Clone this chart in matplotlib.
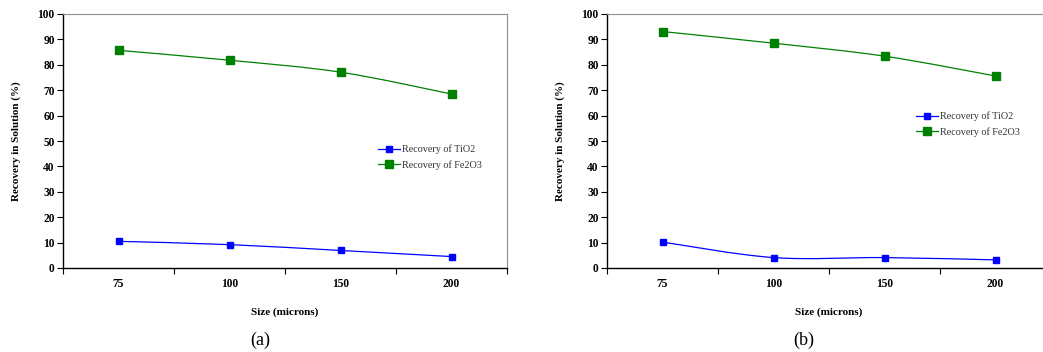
import matplotlib.pyplot as plt
import numpy as np
from matplotlib.path import Path
from matplotlib.patches import PathPatch
from matplotlib.lines import Line2D

plt.rcParams['font.family'] = 'Liberation Serif'

# data
sizes = ['75', '100', '150', '200']
tio2_a = [10.5, 9.2, 6.9, 4.5]
fe2o3_a = [85.7, 81.8, 77.1, 68.5]
tio2_b = [10.2, 4.1, 4.1, 3.2]
fe2o3_b = [93.1, 88.5, 83.4, 75.6]
panel_names = ['(a)', '(b)']


def smooth_path(xs, ys):
    # Excel style smoothed line: bezier segments through the points
    pts = np.column_stack([xs, ys]).astype(float)
    n = len(pts)
    verts = [pts[0]]
    codes = [Path.MOVETO]
    for i in range(n - 1):
        p0 = pts[i - 1] if i > 0 else pts[i]
        p1 = pts[i]
        p2 = pts[i + 1]
        p3 = pts[i + 2] if i + 2 < n else pts[i + 1]
        c1 = p1 + (p2 - p0) / 6.0
        c2 = p2 - (p3 - p1) / 6.0
        verts += [c1, c2, p2]
        codes += [Path.CURVE4] * 3
    return Path(verts, codes)


W, H = 1043, 352
fig = plt.figure(figsize=(W / 100, H / 100), dpi=100)

panels = [
    (63, tio2_a, fe2o3_a, (0.709, 0.486)),
    (607, tio2_b, fe2o3_b, (0.696, 0.616)),
]

for k, (left, tio2, fe2o3, leg_pos) in enumerate(panels):
    ax = fig.add_axes([left / W, (H - 268) / H, 444 / W, 254 / H])
    x = np.arange(len(sizes))

    for vals, col, ms in [(tio2, '#0000ff', 4.0), (fe2o3, '#008000', 6.0)]:
        ax.add_patch(PathPatch(smooth_path(x, vals), fill=False, edgecolor=col,
                               linewidth=0.9, zorder=2))
        ax.plot(x, vals, linestyle='none', marker='s', markersize=ms,
                color=col, zorder=3)

    ax.set_xlim(-0.5, len(sizes) - 0.5)
    ax.set_ylim(0, 100)
    ax.set_yticks(np.arange(0, 101, 10))
    ax.set_xticks(np.arange(-0.5, len(sizes), 1.0))
    ax.set_xticklabels([])
    ax.set_xticks(x, minor=True)
    ax.set_xticklabels(sizes, minor=True)
    ax.tick_params(axis='x', which='major', direction='out', length=4, width=0.8)
    ax.tick_params(axis='x', which='minor', length=0, pad=7)
    ax.tick_params(axis='y', direction='out', length=4, width=0.8, pad=2)
    for lab in ax.get_xticklabels(minor=True) + ax.get_yticklabels():
        lab.set_fontsize(8.3)
        lab.set_fontweight('bold')

    ax.spines['left'].set_color('black')
    ax.spines['bottom'].set_color('black')
    ax.spines['left'].set_linewidth(1.0)
    ax.spines['bottom'].set_linewidth(1.0)
    ax.spines['top'].set_color('#909090')
    ax.spines['right'].set_color('#909090')

    ax.set_xlabel('Size (microns)', fontsize=8, fontweight='bold', labelpad=13)
    ax.set_ylabel('Recovery in Solution (%)', fontsize=8, fontweight='bold',
                  labelpad=12)

    handles = [
        Line2D([], [], color='#0000ff', lw=0.9, marker='s', markersize=4.0),
        Line2D([], [], color='#008000', lw=0.9, marker='s', markersize=6.0),
    ]
    ax.legend(handles, ['Recovery of TiO2', 'Recovery of Fe2O3'],
              loc='upper left', bbox_to_anchor=leg_pos, frameon=False,
              fontsize=7.3, borderpad=0, borderaxespad=0, handlelength=2.2,
              handletextpad=0.2, labelspacing=0.6, labelcolor='#333333')

    fig.text((left + 197) / W, 1 - 340 / H, panel_names[k], fontsize=13,
             ha='center', va='center')

fig.savefig('out.png', dpi=100)
